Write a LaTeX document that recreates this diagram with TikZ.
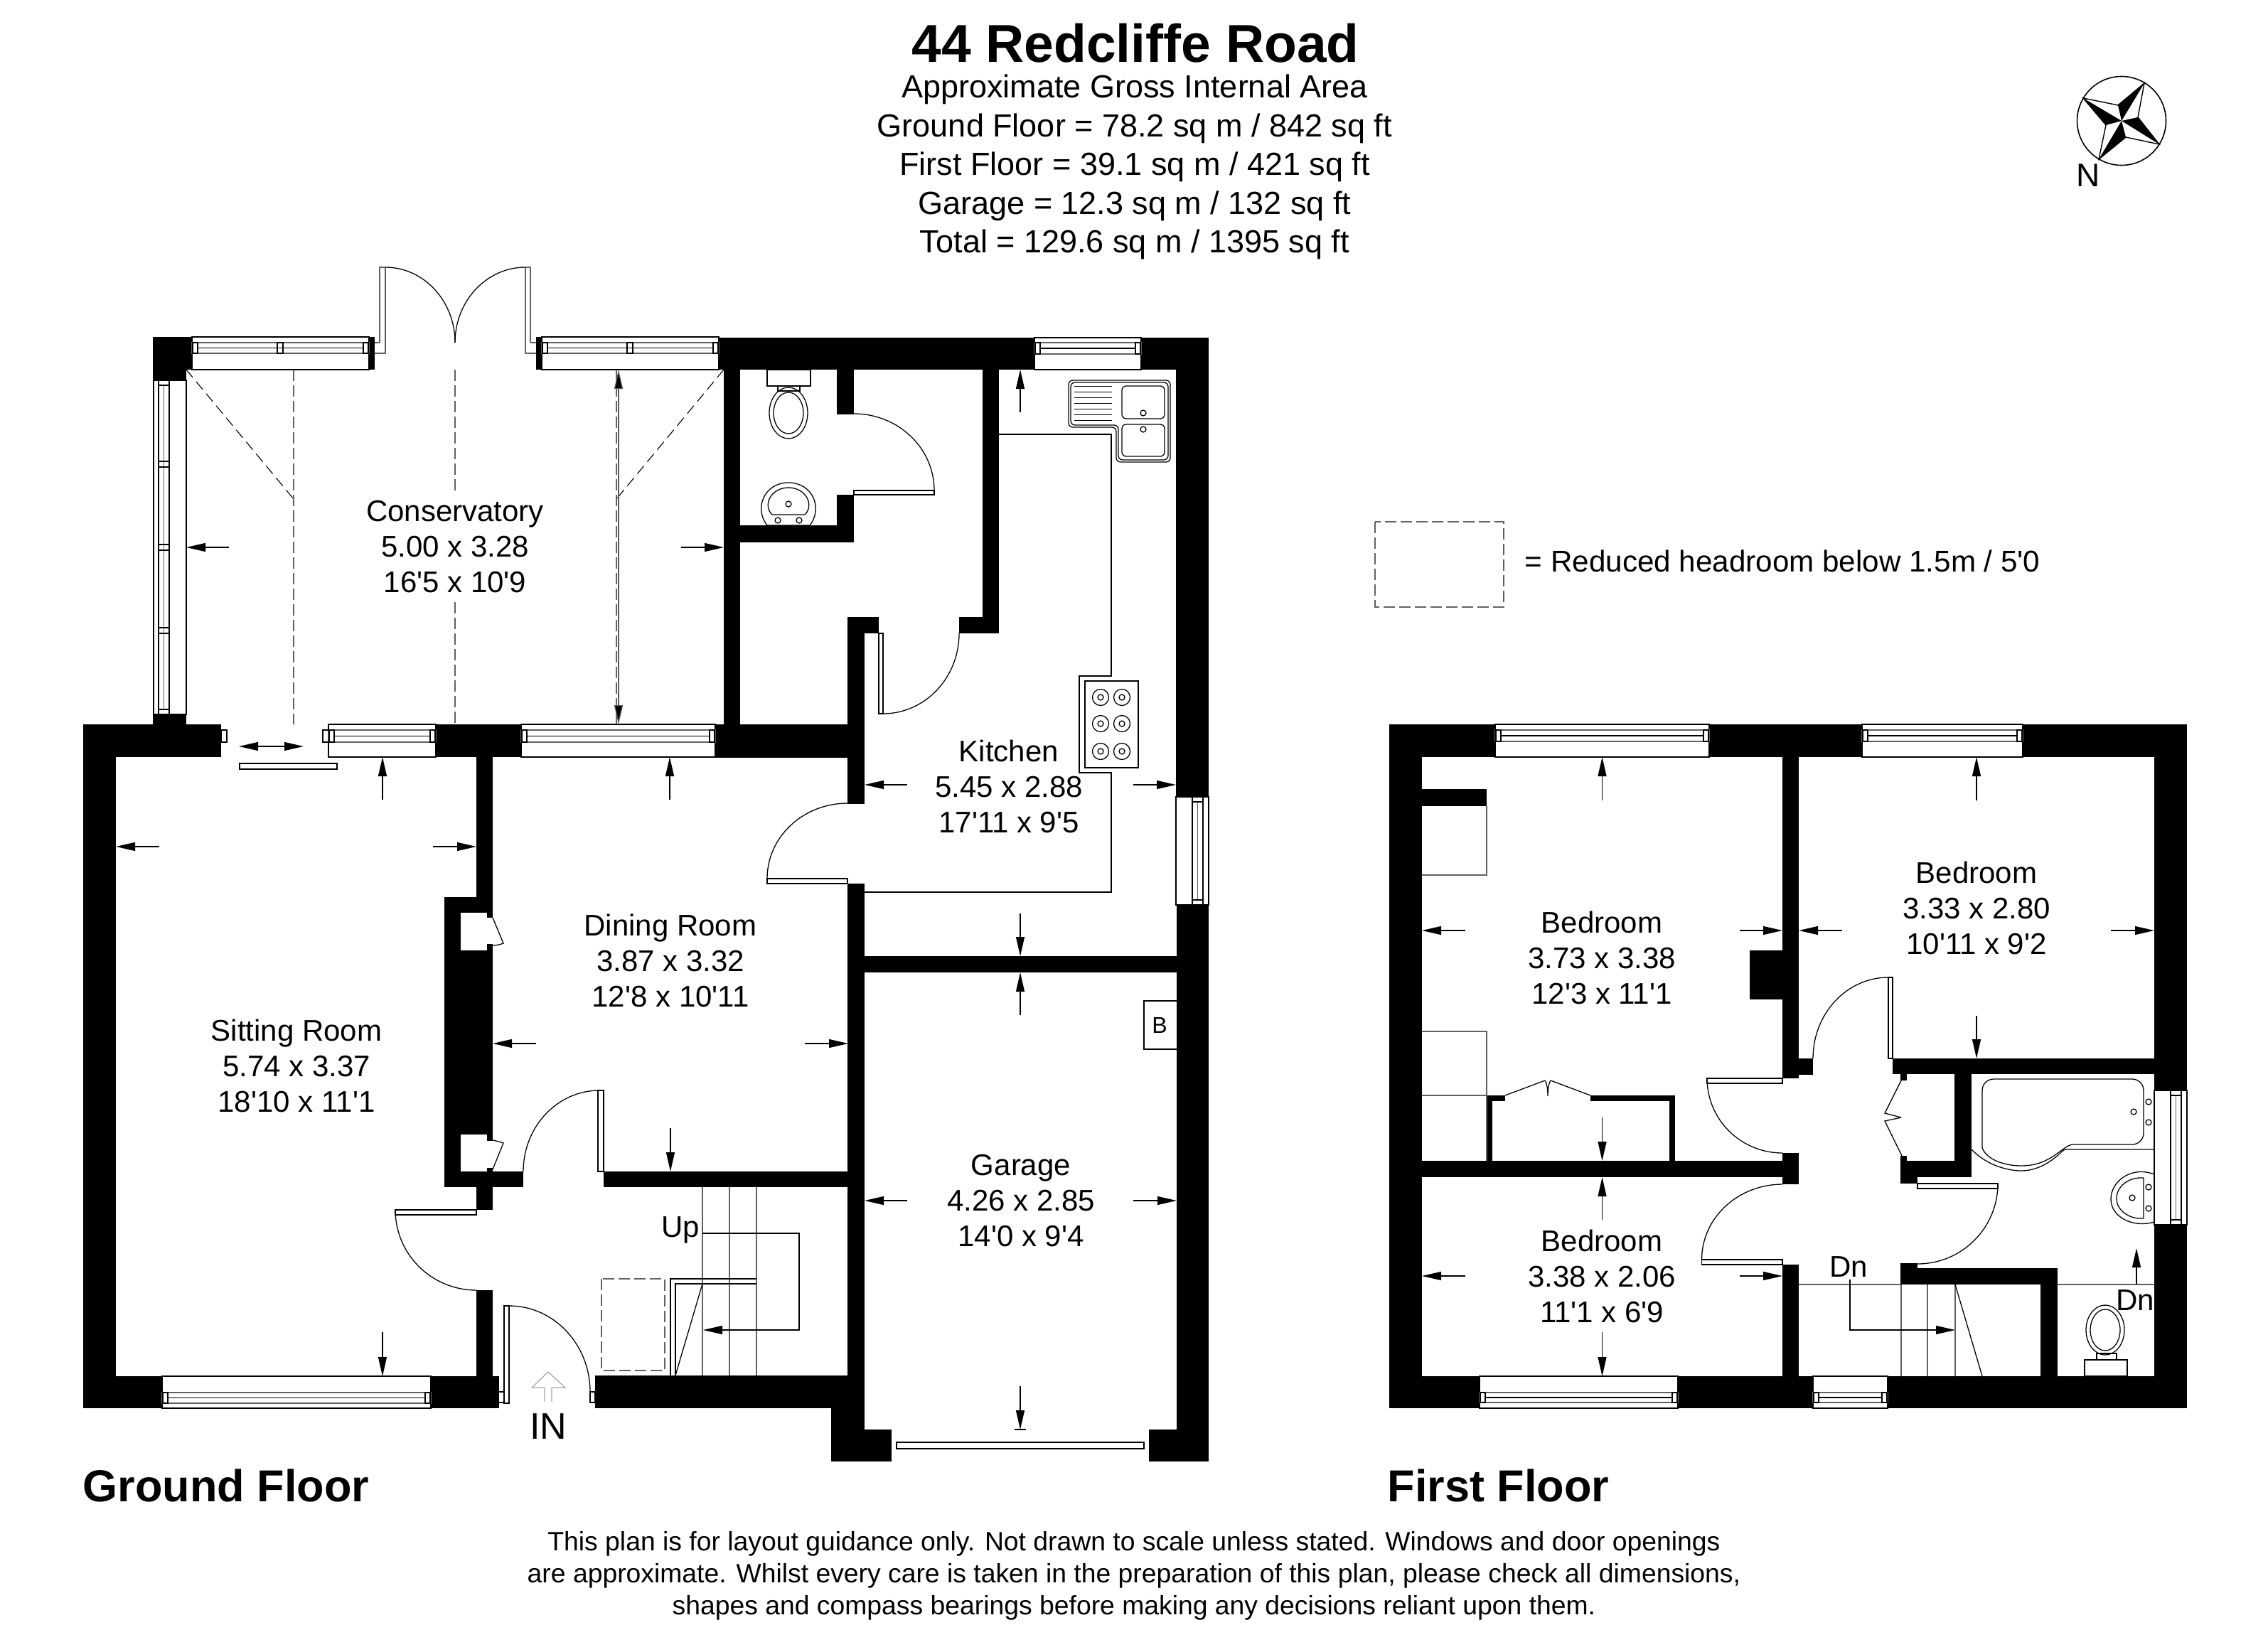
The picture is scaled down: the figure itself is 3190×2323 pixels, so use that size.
\documentclass[tikz,border=0pt]{standalone}
\usepackage{fontspec}
\usetikzlibrary{calc,arrows.meta}
\newfontfamily\planfont{Liberation Sans}
\newcommand\wall[4]{\fill[black] (#1,#2) rectangle (#3,#4);}
\newcommand\whitebox[4]{\fill[white] (#1,#2) rectangle (#3,#4);}
\newcommand\thinbox[4]{\draw[planline] (#1,#2) rectangle (#3,#4);}
% horizontal window: x0 x1 y0 y1 t0 t1
\newcommand\winH[6]{%
  \draw[planline,fill=white] (#1,#3) rectangle (#2,#4);
  \draw[greyline] (#1,#5) rectangle (#2,#6);
  \draw[planline] (#1+8,{#5+(#6-#5)*0.5}) -- (#2-8,{#5+(#6-#5)*0.5});
  \draw[planline] (#1+1,#5) rectangle (#1+8,#6);
  \draw[planline] (#2-8,#5) rectangle (#2-1,#6);}
% vertical window: y0 y1 x0 x1 t0 t1
\newcommand\winV[6]{%
  \draw[planline,fill=white] (#3,#1) rectangle (#4,#2);
  \draw[planline] (#5,#1) rectangle (#6,#2);
  \draw[greyline] ({#5+(#6-#5)*0.5},#1+7) -- ({#5+(#6-#5)*0.5},#2-7);
  \draw[planline] (#5,#1) rectangle (#6,#1+7);
  \draw[planline] (#5,#2-7) rectangle (#6,#2);}
\newcommand\dimar[2]{\draw[dimline] (#1) -- (#2);}
\newcommand\swing[3]{\draw[planline] (#1) .. controls ($(#1)!0.5523!(#2)$) and ($(#3)!0.5523!(#2)$) .. (#3);}
\tikzset{
  planline/.style={line width=0.32pt,draw=black},
  greyline/.style={line width=0.32pt,draw=black!62},
  dashline/.style={line width=0.34pt,draw=black!62,dash pattern=on 3.9pt off 1.6pt},
  dimline/.style={line width=0.3pt,draw=black,-{Triangle[length=6.75pt,width=3pt,fill=black]}},
  roomlabel/.style={font=\planfont\fontsize{10.5}{12.5}\selectfont,align=center,inner sep=0pt},
  headtext/.style={font=\planfont\fontsize{11.25}{13.6}\selectfont,align=center,inner sep=0pt},
  boldtext/.style={font=\planfont\bfseries\fontsize{15.75}{18}\selectfont,inner sep=0pt,anchor=base west},
  foottext/.style={font=\planfont\fontsize{9.33}{11.2}\selectfont,align=center,inner sep=0pt},
}
\begin{document}
\begin{tikzpicture}[x=0.25pt,y=-0.25pt]
\useasboundingbox (0,0) rectangle (3190,2323);
\fill[white] (0,0) rectangle (3190,2323);

% ---- heading
\node[inner sep=0pt,font=\planfont\bfseries\fontsize{18.75}{22}\selectfont] (title) at (1597,61) {44 Redcliffe Road};
\node[headtext] (area) at (1596,235) {Approximate Gross Internal Area\\Ground Floor = 78.2 sq m / 842 sq ft\\First Floor = 39.1 sq m / 421 sq ft\\Garage = 12.3 sq m / 132 sq ft\\Total = 129.6 sq m / 1395 sq ft};

% ---- compass
\draw[line width=0.4pt] (2984,170) circle [radius=62.5];
\filldraw[line width=0.35pt,fill=white] (3016,117) -- (3007,165) -- (3037,203) -- (2990,193) -- (2952,224) -- (2962,176) -- (2930,138) -- (2979,148) -- cycle;
\fill (2984,170) -- (2979,148) -- (3016,117) -- cycle;
\fill (2984,170) -- (2930,138) -- (2962,176) -- cycle;
\fill (2984,170) -- (2952,224) -- (2990,193) -- cycle;
\fill (2984,170) -- (3037,203) -- (3007,165) -- cycle;
\node[inner sep=0pt,font=\planfont\fontsize{11.5}{13}\selectfont] (north) at (2937,247) {N};

% ---- legend
\draw[dashline] (1934,734) rectangle (2115,854);
\node[inner sep=0pt,anchor=base west,font=\planfont\fontsize{10.55}{12}\selectfont] (legend) at (2144,804) {= Reduced headroom below 1.5m / 5'0};

% ---- GROUND FLOOR: conservatory reduced-headroom lines
\draw[dashline] (413,520) -- (413,1019);
\draw[dashline] (640,520) -- (640,694);
\draw[dashline] (640,847) -- (640,1019);
\draw[dashline] (867,520) -- (867,1019);
\draw[line width=0.28pt,dash pattern=on 3.6pt off 1.9pt] (262,520) -- (413,702);
\draw[line width=0.28pt,dash pattern=on 3.6pt off 1.9pt] (1018,520) -- (867,702);

% ---- ground floor walls
\wall{215}{474}{270}{520}
\wall{215}{520}{262}{535}
\wall{519}{474}{527}{520}
\wall{754}{474}{762}{520}
\wall{1011}{475}{1455}{520}
\wall{1605}{475}{1700}{520}
\wall{1018}{520}{1041}{1019}
\wall{215}{1005}{262}{1019}
\wall{117}{1019}{311}{1065}
\wall{613}{1019}{733}{1065}
\wall{1006}{1019}{1216}{1066}
\wall{117}{1065}{163}{1981}
\wall{117}{1936}{228}{1981}
\wall{606}{1936}{702}{1981}
\wall{670}{1065}{693}{1702}
\wall{625}{1262}{693}{1670}
\wall{625}{1648}{736}{1670}
\wall{670}{1815}{693}{1936}
\wall{849}{1648}{1216}{1670}
\wall{1192}{1243}{1216}{1981}
\wall{1192}{1066}{1216}{1131}
\wall{1192}{868}{1216}{1019}
\wall{837}{1935}{1216}{1981}
\wall{1169}{1981}{1216}{2011}
\wall{1169}{2011}{1254}{2056}
\wall{1616}{2011}{1700}{2056}
\wall{1655}{1273}{1700}{2011}
\wall{1654}{520}{1700}{1121}
\wall{1192}{1345}{1700}{1368}
\wall{1177}{520}{1201}{583}
\wall{1177}{696}{1201}{763}
\wall{1018}{739}{1201}{763}
\wall{1382}{520}{1405}{891}
\wall{1349}{868}{1405}{891}
\wall{1192}{868}{1236}{891}

% chimney recesses
\whitebox{648}{1284}{685}{1337}
\whitebox{648}{1596}{685}{1648}
\whitebox{685}{1291}{693}{1328}
\whitebox{685}{1605}{693}{1643}
\draw[planline] (693,1291) -- (708,1327) .. controls (703,1329) and (698,1330) .. (693,1330);
\draw[planline] (693,1645) -- (708,1608) .. controls (703,1606) and (698,1605) .. (693,1604);

% ---- windows ground floor
\winH{270}{519}{474}{520}{482}{497}
\draw[planline] (390,482) rectangle (398,497);
\winH{762}{1011}{474}{520}{482}{497}
\draw[planline] (882,482) rectangle (890,497);
\winH{1455}{1605}{475}{520}{482}{498}
\winV{535}{1005}{216}{262}{223}{238}
\foreach \my in {653,770,887} {\draw[planline] (223,\my-4) rectangle (238,\my+4);}
\winH{462}{613}{1019}{1065}{1027}{1044}
\thinbox{454}{1027}{470}{1044}
\winH{733}{1006}{1019}{1065}{1027}{1044}
\thinbox{311}{1027}{319}{1044}
\thinbox{337}{1074}{474}{1082}
\winH{228}{606}{1936}{1981}{1959}{1974}
\winV{1121}{1273}{1654}{1700}{1677}{1692}

% ---- doors ground floor
% french doors
\draw[greyline] (527,482) -- (534,482);
\draw[greyline] (527,497) -- (542,497) -- (542,376) -- (534,376) -- (534,482);
\draw[greyline] (754,482) -- (746,482);
\draw[greyline] (754,497) -- (739,497) -- (739,376) -- (746,376) -- (746,482);
\swing{542,376}{640,376}{640,482}
\swing{739,376}{640,376}{640,482}
% sitting room door
\thinbox{556}{1702}{670}{1709}
\swing{556,1702}{556,1815}{670,1815}
% dining door
\thinbox{841}{1534}{849}{1648}
\swing{843,1534}{736,1534}{736,1648}
% front door
\thinbox{709}{1837}{716}{1974}
\draw[planline] (702,1958) -- (709,1958);
\draw[planline] (702,1973) -- (709,1973);
\swing{716,1837}{830,1837}{830,1958}
\thinbox{830}{1958}{837}{1973}
% wc door
\thinbox{1201}{690}{1314}{696}
\swing{1314,690}{1314,582}{1201,582}
% kitchen/hall door
\thinbox{1236}{891}{1242}{1004}
\swing{1242,1004}{1349,1004}{1349,891}
% kitchen/dining door
\thinbox{1079}{1236}{1192}{1243}
\swing{1079,1236}{1079,1130}{1192,1130}
% garage door
\thinbox{1261}{2029}{1609}{2038}

% ---- IN arrow
\draw[line width=0.3pt,draw=black!35] (766,1972) -- (766,1952) -- (748,1952) -- (771,1930) -- (795,1952) -- (776,1952) -- (776,1972);
\node[inner sep=0pt,font=\planfont\fontsize{13}{15}\selectfont] (entry) at (771,2007) {IN};

% ---- stairs ground floor
\foreach \sx in {988,1026,1064} {\draw[greyline] (\sx,1670) -- (\sx,1935);}
\draw[planline] (1064,1799) -- (943,1799) -- (943,1935);
\draw[planline] (1064,1806) -- (950,1806) -- (950,1935);
\draw[planline] (988,1806) -- (950,1935);
\draw[dashline] (846,1799) rectangle (935,1928);
\draw[line width=0.3pt,-{Triangle[length=6.75pt,width=3pt,fill=black]}] (988,1735) -- (1124,1735) -- (1124,1871) -- (989,1871);
\node[inner sep=0pt,font=\planfont\fontsize{10.5}{12}\selectfont] (up) at (957,1730) {Up};

% ---- kitchen units
\draw[planline] (1405,611) -- (1563,611) -- (1563,951) -- (1518,951) -- (1518,1087) -- (1563,1087) -- (1563,1255) -- (1216,1255);
\thinbox{1526}{958}{1601}{1080}
\foreach \hx in {1548,1578} \foreach \hy in {981,1018,1057} {
  \draw[planline] (\hx,\hy) circle [radius=11.5];
  \draw[planline] (\hx,\hy) circle [radius=4];}
\draw[planline,fill=white,rounded corners=1.5pt] (1503,535) -- (1646,535) -- (1646,650) -- (1570,650) -- (1570,601) -- (1503,601) -- cycle;
\draw[planline,rounded corners=1.5pt] (1506,538) -- (1643,538) -- (1643,647) -- (1573,647) -- (1573,598) -- (1506,598) -- cycle;
\draw[planline,rounded corners=1.5pt] (1578,543) rectangle (1638,589);
\draw[planline,rounded corners=1.5pt] (1578,597) rectangle (1638,642);
\draw[planline] (1608,581) circle [radius=4];
\draw[planline] (1608,604) circle [radius=4];
\foreach \dy in {543,551,559,567,575,583,591} {\draw[line width=0.25pt] (1511,\dy) -- (1564,\dy);}
% wc
\thinbox{1079}{520}{1140}{543}
\thinbox{1094}{543}{1125}{550}
\draw[planline] (1109,581) ellipse [x radius=27,y radius=36];
\draw[planline] (1109,581) ellipse [x radius=21,y radius=29];
\draw[planline] (1079,739) .. controls (1060,715) and (1075,679) .. (1109,679) .. controls (1143,679) and (1158,715) .. (1139,739) -- cycle;
\draw[planline] (1086,724) .. controls (1072,710) and (1085,686) .. (1109,686) .. controls (1133,686) and (1146,710) .. (1132,724) -- cycle;
\draw[planline] (1109,709) circle [radius=4];
\draw[planline] (1094,732) circle [radius=4];
\draw[planline] (1124,732) circle [radius=4];
% boiler
\draw[planline] (1655,1408) -- (1609,1408) -- (1609,1476) -- (1655,1476);
\node[inner sep=0pt,font=\planfont\fontsize{8}{9}\selectfont] (boiler) at (1631,1442) {B};

% ---- ground dimension arrows
\dimar{322,770}{262,770}
\dimar{958,770}{1018,770}
\draw[line width=0.3pt,draw=black!65,{Triangle[length=6.75pt,width=3pt,fill=black]}-{Triangle[length=6.75pt,width=3pt,fill=black]}] (870,520) -- (870,1019);
\dimar{538,1125}{538,1065}
\dimar{942,1125}{942,1065}
\draw[line width=0.3pt,{Triangle[length=6.75pt,width=3pt,fill=black]}-{Triangle[length=6.75pt,width=3pt,fill=black]}] (336,1050) -- (427,1050);
\dimar{224,1191}{163,1191}
\dimar{609,1191}{670,1191}
\dimar{538,1874}{538,1936}
\dimar{754,1468}{693,1468}
\dimar{1132,1468}{1193,1468}
\dimar{943,1587}{943,1648}
\dimar{1435,580}{1435,520}
\dimar{1276,1104}{1216,1104}
\dimar{1594,1104}{1654,1104}
\dimar{1435,1285}{1435,1345}
\dimar{1435,1428}{1435,1368}
\dimar{1276,1689}{1216,1689}
\dimar{1594,1689}{1655,1689}
\dimar{1435,1950}{1435,2011}
\draw[line width=0.3pt] (1427,2011) -- (1443,2011);

% ---- ground labels
\node[roomlabel] (conservatory) at (640,769) {Conservatory\\5.00 x 3.28\\16'5 x 10'9};
\node[roomlabel] (kitchen) at (1419,1106) {Kitchen\\5.45 x 2.88\\17'11 x 9'5};
\node[roomlabel] (sitting) at (417,1499) {Sitting Room\\5.74 x 3.37\\18'10 x 11'1};
\node[roomlabel] (dining) at (943,1351) {Dining Room\\3.87 x 3.32\\12'8 x 10'11};
\node[roomlabel] (garage) at (1436,1689) {Garage\\4.26 x 2.85\\14'0 x 9'4};
\node[boldtext] (gf) at (116,2112) {Ground Floor};

% ---- FIRST FLOOR walls
\wall{1954}{1019}{2103}{1065}
\wall{2404}{1019}{2619}{1065}
\wall{2845}{1019}{3076}{1065}
\wall{1954}{1065}{2000}{1981}
\wall{2507}{1065}{2530}{1517}
\wall{2461}{1337}{2507}{1406}
\wall{2000}{1110}{2091}{1134}
\wall{2091}{1541}{2117}{1549}
\wall{2237}{1541}{2356}{1549}
\wall{2091}{1541}{2099}{1633}
\wall{2348}{1541}{2356}{1633}
\wall{1954}{1633}{2530}{1656}
\wall{2507}{1622}{2530}{1666}
\wall{2507}{1779}{2530}{1981}
\wall{1954}{1936}{2081}{1981}
\wall{2360}{1936}{2550}{1981}
\wall{2655}{1936}{3076}{1981}
\wall{3030}{1065}{3076}{1534}
\wall{3030}{1723}{3076}{1981}
\wall{2662}{1489}{3076}{1511}
\wall{2507}{1489}{2550}{1512}
\wall{2749}{1511}{2773}{1656}
\wall{2673}{1633}{2773}{1656}
\wall{2673}{1511}{2682}{1520}
\wall{2673}{1626}{2682}{1633}
\wall{2673}{1656}{2697}{1665}
\wall{2673}{1784}{2894}{1807}
\wall{2673}{1777}{2697}{1784}
\wall{2870}{1807}{2894}{1936}

% ---- first floor windows
\winH{2103}{2404}{1019}{1065}{1027}{1043}
\winH{2619}{2845}{1019}{1065}{1027}{1043}
\winH{2081}{2360}{1936}{1981}{1959}{1973}
\winH{2550}{2655}{1936}{1981}{1959}{1973}
\winV{1534}{1723}{3030}{3076}{3053}{3068}

% ---- first floor fixtures
\draw[greyline] (2091,1134) -- (2091,1231) -- (2000,1231);
\draw[greyline] (2000,1451) -- (2091,1451) -- (2091,1633);
\draw[greyline] (2000,1541) -- (2091,1541);
\draw[planline] (2117,1541) -- (2173,1520);
\draw[planline] (2237,1541) -- (2181,1520);
\draw[planline] (2173,1520) .. controls (2176,1524) and (2177,1534) .. (2177,1542) .. controls (2177,1534) and (2178,1524) .. (2181,1520);

% doors
\thinbox{2401}{1517}{2507}{1524}
\swing{2401,1517}{2401,1622}{2507,1622}
\thinbox{2393.5}{1772}{2507}{1779}
\swing{2393.5,1772}{2393.5,1666}{2507,1666}
\thinbox{2656}{1375}{2662}{1489}
\swing{2656,1375}{2550,1375}{2550,1489}
\thinbox{2697}{1665}{2810}{1672}
\swing{2810,1665}{2810,1778}{2697,1778}
% cupboard doors
\draw[planline] (2674,1520) -- (2651,1566) -- (2674,1572);
\draw[planline] (2674,1572) -- (2651,1577) -- (2675,1626);

% stairs
\draw[greyline] (2530,1807) -- (2673,1807);
\draw[greyline] (2894,1807) -- (3030,1807);
\foreach \sx in {2674,2711,2750} {\draw[greyline] (\sx,1807) -- (\sx,1936);}
\draw[planline] (2750,1807) -- (2788,1936);
\draw[line width=0.3pt,-{Triangle[length=6.75pt,width=3pt,fill=black]}] (2602,1800) -- (2602,1871) -- (2750,1871);
\node[inner sep=0pt,font=\planfont\fontsize{10.5}{12}\selectfont] (dn1) at (2600,1782) {Dn};
\dimar{3005,1807}{3005,1756}
\node[inner sep=0pt,font=\planfont\fontsize{10.5}{12}\selectfont] (dn2) at (3003,1829) {Dn};

% bath
\draw[planline] (2773,1617) .. controls (2795,1640) and (2825,1647) .. (2843,1647) .. controls (2865,1647) and (2885,1635) .. (2900,1620) .. controls (2905,1615) and (2910,1617) .. (2915,1617) -- (3030,1617);
\draw[planline,rounded corners=4pt] (2788,1615) -- (2788,1518) -- (3015,1518) -- (3015,1610) -- (2915,1610);
\draw[planline] (2915,1610) .. controls (2900,1612) and (2885,1640) .. (2843,1640) .. controls (2820,1640) and (2795,1632) .. (2788,1615);
\draw[planline] (3022,1550) circle [radius=4];
\draw[planline] (3022,1579) circle [radius=4];
\draw[planline] (3001,1564) circle [radius=4];
% basin
\draw[planline] (3030,1652) .. controls (3000,1640) and (2969,1660) .. (2969,1687) .. controls (2969,1712) and (3000,1728) .. (3030,1719);
\draw[planline] (3010,1657) .. controls (2995,1657) and (2977,1668) .. (2977,1686) .. controls (2977,1703) and (2995,1714) .. (3010,1714) -- (3015,1714) -- (3015,1657) -- cycle;
\draw[planline] (3022,1670) circle [radius=4];
\draw[planline] (3022,1700) circle [radius=4];
\draw[planline] (2999,1685) circle [radius=4];
% toilet
\thinbox{2932}{1913}{2992}{1936}
\thinbox{2949}{1904}{2977}{1913}
\draw[planline] (2961,1871) ellipse [x radius=27,y radius=35];
\draw[planline] (2961,1871) ellipse [x radius=21,y radius=29];

% ---- first floor arrows
\dimar{2253.5,1126}{2253.5,1065}
\dimar{2061,1309}{2000,1309}
\dimar{2446.5,1309}{2507,1309}
\dimar{2253.5,1572}{2253.5,1633}
\dimar{2253.5,1716}{2253.5,1656}
\dimar{2061,1795}{2000,1795}
\dimar{2446.5,1795}{2507,1795}
\dimar{2253.5,1874}{2253.5,1936}
\dimar{2780,1126}{2780,1065}
\dimar{2591,1309}{2530,1309}
\dimar{2969,1309}{3030,1309}
\dimar{2780,1429}{2780,1489}

% ---- first floor labels
\node[roomlabel] (bedone) at (2253,1347) {Bedroom\\3.73 x 3.38\\12'3 x 11'1};
\node[roomlabel] (bedtwo) at (2253,1795) {Bedroom\\3.38 x 2.06\\11'1 x 6'9};
\node[roomlabel] (bedthree) at (2780,1277) {Bedroom\\3.33 x 2.80\\10'11 x 9'2};
\node[boldtext] (ff) at (1951,2112) {First Floor};

% ---- footer
\node[foottext] (note) at (1595,2217) {This plan is for layout guidance only. Not drawn to scale unless stated. Windows and door openings\\are approximate. Whilst every care is taken in the preparation of this plan, please check all dimensions,\\shapes and compass bearings before making any decisions reliant upon them.};
\end{tikzpicture}
\end{document}
